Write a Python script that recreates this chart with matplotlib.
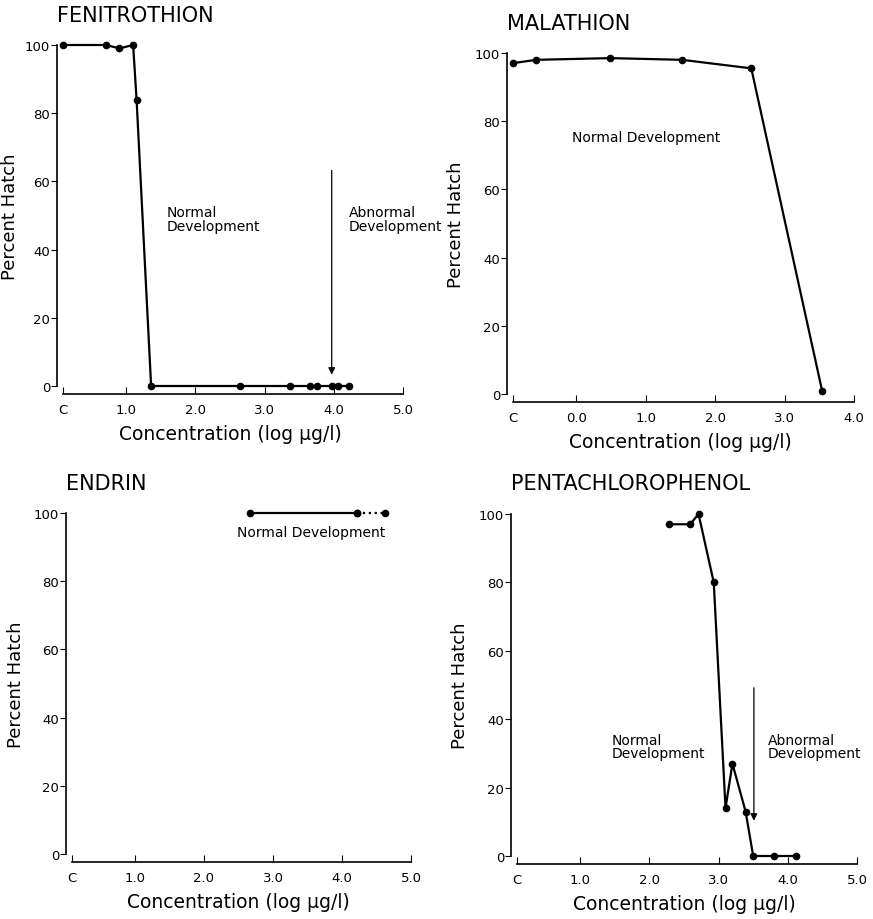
import matplotlib
matplotlib.use("Agg")
import matplotlib.pyplot as plt

# Fenitrothion
fen_x = [0.09, 0.71, 0.90, 1.10, 1.15, 1.36, 2.64, 3.36, 3.65, 3.75, 3.97, 4.06, 4.22]
fen_y = [100, 100, 99, 100, 84, 0, 0, 0, 0, 0, 0, 0, 0]

# Malathion
mal_x = [-0.92, -0.58, 0.49, 1.52, 2.52, 3.54]
mal_y = [97, 98, 98.5, 98, 95.5, 1]

# Endrin
end_x = [2.67, 4.22, 4.62]
end_y = [100, 100, 100]

# Pentachlorophenol
pcp_x = [2.29, 2.59, 2.71, 2.93, 3.10, 3.20, 3.39, 3.50, 3.80, 4.12]
pcp_y = [97, 97, 100, 80, 14, 27, 13, 0, 0, 0]

yticks = [0, 20, 40, 60, 80, 100]
xticks_a = [0.09, 1, 2, 3, 4, 5]
xlabels_a = ["C", "1.0", "2.0", "3.0", "4.0", "5.0"]
xticks_b = [-0.92, 0, 1, 2, 3, 4]
xlabels_b = ["C", "0.0", "1.0", "2.0", "3.0", "4.0"]

plt.rcParams['font.family'] = ['DejaVu Sans']

fig = plt.figure(figsize=(8.73, 9.2), dpi=100)
W, H = 873.0, 920.0


def make_ax(left, right, top, bottom):
    return fig.add_axes([left / W, (H - bottom) / H, (right - left) / W, (bottom - top) / H])


def style(ax, title, xlim, xticks, xlabels, ylab_x=-0.12):
    ax.set_xlim(*xlim)
    ax.set_ylim(0, 100)
    ax.spines['top'].set_visible(False)
    ax.spines['right'].set_visible(False)
    ax.spines['bottom'].set_position(('outward', 6))
    ax.spines['bottom'].set_bounds(xticks[0], xlim[1])
    ax.spines['left'].set_linewidth(1.2)
    ax.spines['bottom'].set_linewidth(1.2)
    ax.set_yticks(yticks)
    ax.set_xticks(xticks)
    ax.set_xticklabels(xlabels)
    ax.tick_params(axis='y', direction='out', length=4, labelsize=9.5, pad=1)
    ax.tick_params(axis='x', direction='in', length=5, labelsize=9.5, pad=6)
    ax.set_ylabel("Percent Hatch", fontsize=13)
    ax.yaxis.set_label_coords(ylab_x, 0.5)
    ax.set_xlabel("Concentration (log \u03bcg/l)", fontsize=13.5, labelpad=6)
    ax.text(0.0, 1.06, title, transform=ax.transAxes, fontsize=15,
            ha='left', va='bottom')


def series(ax, x, y):
    ax.plot(x, y, color='black', lw=1.6, marker='o', ms=4.5, clip_on=False)


ax1 = make_ax(57, 403, 46, 387)
style(ax1, "FENITROTHION", (0, 5), xticks_a, xlabels_a, ylab_x=-0.11)
series(ax1, fen_x, fen_y)
ax1.text(1.59, 53, "Normal\nDevelopment", fontsize=10, va='top', linespacing=0.95)
ax1.text(4.22, 53, "Abnormal\nDevelopment", fontsize=10, va='top', linespacing=0.95)
ax1.annotate("", xy=(3.97, 2.5), xytext=(3.97, 64),
             arrowprops=dict(arrowstyle='-|>', color='black', lw=0.9, mutation_scale=10))

ax2 = make_ax(507, 854, 54, 395)
style(ax2, "MALATHION", (-1, 4), xticks_b, xlabels_b)
series(ax2, mal_x, mal_y)
ax2.text(-0.06, 75.5, "Normal Development", fontsize=10, va='center')

ax3 = make_ax(66, 411, 514, 855)
style(ax3, "ENDRIN", (0, 5), xticks_a, xlabels_a)
ax3.plot(end_x[:2], end_y[:2], color='black', lw=1.6, marker='o', ms=4.5, clip_on=False)
ax3.plot(end_x[1:], end_y[1:], color='black', lw=1.6, ls=':', marker='o', ms=4.5, clip_on=False)
ax3.text(2.48, 94.5, "Normal Development", fontsize=10, va='center')

ax4 = make_ax(511, 857, 515, 857)
style(ax4, "PENTACHLOROPHENOL", (0, 5), xticks_a, xlabels_a)
series(ax4, pcp_x, pcp_y)
ax4.text(1.45, 36, "Normal\nDevelopment", fontsize=10, va='top', linespacing=0.95)
ax4.text(3.71, 36, "Abnormal\nDevelopment", fontsize=10, va='top', linespacing=0.95)
ax4.annotate("", xy=(3.51, 9.5), xytext=(3.51, 50),
             arrowprops=dict(arrowstyle='-|>', color='black', lw=0.9, mutation_scale=10))

fig.savefig("out.png", dpi=100)
